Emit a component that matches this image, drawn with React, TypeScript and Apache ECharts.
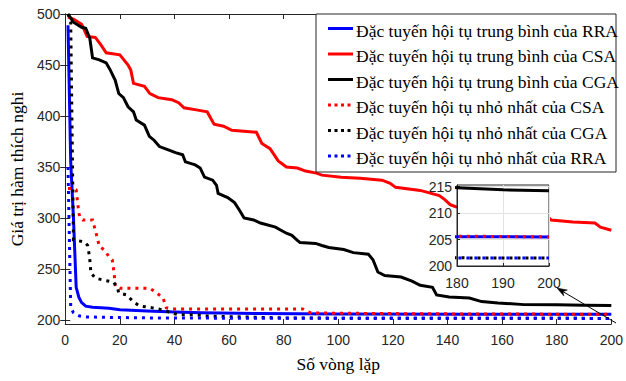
import React, { useEffect, useRef } from "react";
import * as echarts from "echarts";

// [iteration, fitness]
const rraMean = [[1,489],[2,355],[3,300],[4,232],[5,222],[6,217],[7.5,213.5],[10,212.5],[16,211.5],[20,210],[30,208.8],[40,207.8],[50,207],[70,206.2],[100,205.8],[150,205.6],[200,205.5]];
const csaMean = [[1,497],[3,495],[6,490],[8,478],[11,477],[13,470],[15,462],[20,460],[23,450],[24,445],[25,432],[29,429],[31,422],[34,418],[39,416],[41.5,413],[43.5,408],[48,406],[52,404],[54.5,392],[58,390],[61,386],[70,384],[72,373],[75,368],[78,356],[81,350],[85,349],[88,346],[92,344],[94,342],[101,340],[108,339],[116,337],[119,334],[121,330],[130,327],[137,322],[139,318],[141,313],[143,311],[160,307],[176,303],[178,298],[186,296],[194,295],[196,291],[200,288]];
const cgaMean = [[1,500],[3,492],[6,487],[7.5,486],[9,476],[10,457],[12.5,455],[15,452],[16.5,445],[18.3,435],[19.6,422],[21.3,418],[23,409],[25,404],[26,396],[29,391],[30.8,380],[32.6,376],[34.5,370],[37.5,367],[40.4,364],[43,362],[44,355],[47.6,352],[49.4,349],[51,340],[54,337],[55.4,332],[56,324],[59.5,320],[62,315],[63.7,308],[65.5,300],[69,298],[71.5,295],[77,291],[79,288],[81,285],[83,283],[85,278],[86,276],[91.7,275],[94,273],[96.5,271],[102,269],[105.5,266],[111,264.5],[112.7,259],[114.5,247],[117,243.5],[123,242],[127,238],[130,234],[134.5,232],[136,224.5],[140.6,222.5],[148,221.5],[152.5,218],[158.5,216.6],[168,215],[180,214.8],[190,214.4],[200,214.2]];
const csaMin = [[1,329],[3,329],[4,327.5],[4.6,313],[5.3,300],[6.4,298],[10,298],[11,288],[12.5,272],[14.3,268.6],[16,262],[17.2,259],[17.9,246],[18.3,232.5],[20,231],[31,231],[33,227.5],[35.8,221.6],[37,212],[39,210.8],[87,210.8],[88,209],[90,206.8],[130,206],[200,205.5]];
const cgaMin = [[1,500],[2,492],[3,278.6],[7,276.5],[8.2,273],[8.9,262],[9.4,246],[11,241],[14,239],[17.7,237],[19,232.5],[19.6,226.5],[22.5,224.5],[25,217.6],[27.3,213.7],[32,211.8],[35.8,209.8],[39,206.9],[41.5,205],[48,205],[51,204],[63,203],[80,202],[100,201.7],[200,201.5]];
const rraMin = [[1,350],[2,212],[3,207],[4,205],[5,204],[7,203],[15,202.5],[30,202],[60,201.7],[200,201.5]];

const legendLabels = [
  "Đặc tuyến hội tụ trung bình của RRA",
  "Đặc tuyến hội tụ trung bình của CSA",
  "Đặc tuyến hội tụ trung bình của CGA",
  "Đặc tuyến hội tụ nhỏ nhất của CSA",
  "Đặc tuyến hội tụ nhỏ nhất của CGA",
  "Đặc tuyến hội tụ nhỏ nhất của RRA",
];
const yTickValues = [200, 250, 300, 350, 400, 450, 500];
const insetYTicks = [200, 205, 210, 215];
const xAxisName = "Số vòng lặp";
const yAxisName = "Giá trị hàm thích nghi";

const seriesDefs = [
  { data: rraMean, color: "#0000ff", dotted: false },
  { data: csaMean, color: "#ff0000", dotted: false },
  { data: cgaMean, color: "#000000", dotted: false },
  { data: csaMin, color: "#ff0000", dotted: true },
  { data: cgaMin, color: "#000000", dotted: true },
  { data: rraMin, color: "#0000ff", dotted: true },
];

const AX = "#262626";
const SANS = "Liberation Sans";
const SERIF = "Liberation Serif";

export default function App() {
  const ref = useRef<HTMLDivElement>(null);
  useEffect(() => {
    const chart = echarts.init(ref.current!, null, { renderer: "svg" });
    const mk = (d: any, i: number, inset: boolean) => ({
      type: "line",
      name: legendLabels[i],
      data: d.data,
      xAxisIndex: inset ? 2 : 0,
      yAxisIndex: inset ? 2 : 0,
      symbol: "none",
      silent: true,
      clip: true,
      z: inset ? 7 : 2,
      lineStyle: { color: d.color, width: 3, type: d.dotted ? [3, 5] : "solid", cap: "butt", join: "miter" },
    });
    const series: any[] = [];
    seriesDefs.forEach((d, i) => series.push(mk(d, i, false)));
    seriesDefs.forEach((d, i) => series.push(mk(d, i, true)));

    const graphic: any[] = [];
    graphic.push({ type: "rect", z: 20, shape: { x: 316, y: 14, width: 300, height: 158 }, style: { fill: "#fff", stroke: AX, lineWidth: 1 } });
    seriesDefs.forEach((d, i) => {
      const y = 28.5 + i * 25.5;
      graphic.push({ type: "line", z: 21, shape: { x1: 328, y1: y, x2: 353, y2: y }, style: { stroke: d.color, lineWidth: 3, lineDash: d.dotted ? [3, 3.5] : null } });
      graphic.push({ type: "text", z: 21, x: 356, y: y + 2, style: { text: legendLabels[i], fontFamily: SERIF, fontSize: 17.5, fill: "#000", verticalAlign: "middle", align: "left" } });
    });
    graphic.push({ type: "line", z: 21, shape: { x1: 616, y1: 323, x2: 563, y2: 291.6 }, style: { stroke: "#000", lineWidth: 1 } });
    graphic.push({ type: "polygon", z: 21, shape: { points: [[557, 288], [567.4, 290.1], [563, 291.6], [563.8, 296.1]] }, style: { fill: "#000", stroke: "#000", lineWidth: 0.5 } });

    const tickLabel = { color: AX, fontFamily: SANS, fontSize: 14 };
    chart.setOption({
      animation: false,
      backgroundColor: "#fff",
      grid: [
        { left: 57, top: 14, width: 559, height: 310, show: false },
        { left: 457, top: 185, width: 92, height: 81, show: true, backgroundColor: "#fff", borderColor: AX, borderWidth: 1, z: 5 },
      ],
      xAxis: [
        {
          type: "value", gridIndex: 0, min: 0, max: 200, interval: 20, position: "bottom",
          axisLine: { show: true, lineStyle: { color: AX, width: 1 } },
          axisTick: { show: true, inside: true, length: 5, lineStyle: { color: AX } },
          axisLabel: { ...tickLabel, margin: 9 },
          splitLine: { show: false },
          name: xAxisName, nameLocation: "middle", nameGap: 31,
          nameTextStyle: { fontFamily: SERIF, fontSize: 17.5, color: "#000" },
        },
        {
          type: "value", gridIndex: 0, min: 0, max: 200, interval: 20, position: "top",
          axisLine: { show: true, lineStyle: { color: AX, width: 1 } },
          axisTick: { show: true, inside: true, length: 5, lineStyle: { color: AX } },
          axisLabel: { show: false }, splitLine: { show: false },
        },
        {
          type: "value", gridIndex: 1, min: 180, max: 200, interval: 10, position: "bottom", z: 6,
          axisLine: { show: true, lineStyle: { color: AX, width: 1 } },
          axisTick: { show: true, inside: true, length: 3, lineStyle: { color: AX } },
          axisLabel: { ...tickLabel, margin: 10 },
          splitLine: { show: true, lineStyle: { color: "#e3e3e3", width: 1 } },
        },
      ],
      yAxis: [
        {
          type: "value", gridIndex: 0, min: 196, max: 500, position: "left",
          axisLine: { show: true, lineStyle: { color: AX, width: 1 } },
          axisTick: { show: true, inside: true, length: 5, lineStyle: { color: AX }, customValues: yTickValues },
          axisLabel: { ...tickLabel, margin: 5, customValues: yTickValues },
          splitLine: { show: false },
          name: yAxisName, nameLocation: "middle", nameGap: 33, nameRotate: 90,
          nameTextStyle: { fontFamily: SERIF, fontSize: 17.5, color: "#000" },
        },
        {
          type: "value", gridIndex: 0, min: 196, max: 500, position: "right",
          axisLine: { show: true, lineStyle: { color: AX, width: 1 } },
          axisTick: { show: true, inside: true, length: 5, lineStyle: { color: AX }, customValues: yTickValues },
          axisLabel: { show: false }, splitLine: { show: false },
        },
        {
          type: "value", gridIndex: 1, min: 200, max: 215.3, interval: 5, position: "left", z: 6,
          axisLine: { show: true, lineStyle: { color: AX, width: 1 } },
          axisTick: { show: true, inside: true, length: 3, lineStyle: { color: AX }, customValues: insetYTicks },
          axisLabel: { ...tickLabel, margin: 5, customValues: insetYTicks },
          splitLine: { show: true, lineStyle: { color: "#e3e3e3", width: 1 } },
        },
      ],
      series,
      graphic,
    });
    return () => chart.dispose();
  }, []);
  return <div ref={ref} style={{ position: "fixed", left: 0, top: 0, width: 626, height: 381 }} />;
}
